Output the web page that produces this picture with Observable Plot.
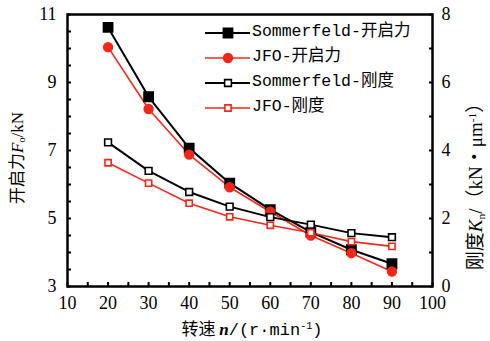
<!DOCTYPE html>
<html><head><meta charset="utf-8">
<script src="https://cdn.jsdelivr.net/npm/d3@7"></script>
<script src="https://cdn.jsdelivr.net/npm/@observablehq/plot@0.6"></script>
<style>
body{margin:0;background:#fff;}
#wrap{position:relative;width:490px;height:341px;overflow:hidden;background:#fff;}
#wrap svg{position:absolute;left:0;top:0;}
#wrap svg text{font-family:"Liberation Serif","Times New Roman",serif !important;}
.t{position:absolute;white-space:nowrap;color:#000;line-height:1;}
.serif{font-family:"Liberation Serif","Times New Roman","Noto Sans CJK SC",serif;}
.mono{font-family:"Liberation Mono","Courier New","Noto Sans CJK SC",monospace;}
.cjk{font-family:"Noto Sans CJK SC","Noto Sans CJK JP",sans-serif;}
.sub{font-size:0.6em;vertical-align:-0.25em;}
.sup{font-size:0.6em;vertical-align:0.55em;}
.leg{position:absolute;left:0;top:0;}
</style></head><body><div id="wrap"></div>
<script>
// ---- data ----
const speed = [20, 30, 40, 50, 60, 70, 80, 90];
const sommerfeldForce = [10.62, 8.58, 7.07, 6.04, 5.26, 4.60, 4.08, 3.67];
const jfoForce        = [10.04, 8.22, 6.88, 5.92, 5.20, 4.50, 3.98, 3.44];
const sommerfeldStiff = [4.24, 3.40, 2.78, 2.35, 2.04, 1.82, 1.57, 1.45];
const jfoStiff        = [3.64, 3.04, 2.45, 2.05, 1.80, 1.58, 1.32, 1.18];
const seriesNames = ["Sommerfeld-开启力", "JFO-开启力", "Sommerfeld-刚度", "JFO-刚度"];
const xTickLabels = [10, 20, 30, 40, 50, 60, 70, 80, 90, 100];
const xMinorTicks = d3.range(10, 100.1, 5);
const leftTickLabels = [3, 5, 7, 9, 11];
const leftMinorTicks = d3.range(3, 11.01, 0.5);
const rightTickLabels = [0, 2, 4, 6, 8];
const rightMinorTicks = [0, 1, 2, 3, 4, 5, 6, 7, 8];

// right axis (stiffness 0..8) shares the left scale (3..11)
const leftMin = 3, rightMin = 0;
const toLeft = v => v - rightMin + leftMin;

const RED = "#f0281a";
const styles = [
  {stroke: "#000", fill: "#000", symbol: "square", r: 5.2, sw: 2},
  {stroke: RED, fill: RED, symbol: "circle", r: 4.4, sw: 1.6},
  {stroke: "#000", fill: "#fff", symbol: "square", r: 3.8, sw: 2},
  {stroke: RED, fill: "#fff", symbol: "square", r: 3.5, sw: 1.6}
];

const rows = [];
speed.forEach((s, i) => {
  rows.push({series: seriesNames[0], x: s, y: sommerfeldForce[i]});
  rows.push({series: seriesNames[1], x: s, y: jfoForce[i]});
  rows.push({series: seriesNames[2], x: s, y: toLeft(sommerfeldStiff[i])});
  rows.push({series: seriesNames[3], x: s, y: toLeft(jfoStiff[i])});
});

const marks = [];
seriesNames.forEach((name, k) => {
  const st = styles[k];
  const d = rows.filter(r => r.series === name);
  marks.push(Plot.line(d, {x: "x", y: "y", stroke: st.stroke, strokeWidth: st.sw}));
});
seriesNames.forEach((name, k) => {
  const st = styles[k];
  const d = rows.filter(r => r.series === name);
  marks.push(Plot.dot(d, {x: "x", y: "y", symbol: st.symbol, r: st.r, fill: st.fill, stroke: st.stroke, strokeWidth: 1.6}));
});

const fontNum = '"Liberation Serif", "Times New Roman", serif';
const chart = Plot.plot({
  width: 490, height: 341,
  marginLeft: 67, marginRight: 58, marginTop: 14, marginBottom: 55,
  style: {background: "transparent", fontFamily: fontNum, color: "#000"},
  x: {domain: [10, 100]},
  y: {domain: [3, 11]},
  marks: [
    // inward minor ticks
    Plot.axisX(xMinorTicks, {tickSize: -4, tickFormat: () => "", label: null, strokeWidth: 2}),
    Plot.axisY(leftMinorTicks, {tickSize: -4, tickFormat: () => "", label: null, strokeWidth: 2}),
    Plot.axisY(rightMinorTicks.map(toLeft), {anchor: "right", tickSize: -4, tickFormat: () => "", label: null, strokeWidth: 2}),
    // labels
    Plot.axisX(xTickLabels, {tickSize: 0, tickPadding: 10, fontSize: 18, label: null}),
    Plot.axisY(leftTickLabels, {tickSize: 0, tickPadding: 11, fontSize: 18, label: null}),
    Plot.axisY(rightTickLabels.map(toLeft), {anchor: "right", tickSize: 0, tickPadding: 9, fontSize: 18, label: null, tickFormat: d => d - leftMin + rightMin}),
    ...marks,
    Plot.frame({stroke: "#000", strokeWidth: 2.5})
  ]
});
const wrap = document.getElementById("wrap");
wrap.appendChild(chart);

// axis titles
function addText(html, cls, css) {
  const el = document.createElement("div");
  el.className = "t " + cls;
  el.innerHTML = html;
  Object.assign(el.style, css);
  wrap.appendChild(el);
  return el;
}
addText('<span class="cjk">开启力</span><i>F</i><span class="sub">o</span>/kN', "serif",
  {left: "17px", top: "158px", fontSize: "17px", transform: "translate(-50%,-50%) rotate(-90deg)"});
addText('<span class="cjk">刚度</span><i>K</i><span class="sub">n</span>/<span class="cjk">（</span>kN<span class="cjk">·</span>μm<span class="sup">-1</span><span class="cjk">）</span>', "serif",
  {left: "476px", top: "182px", fontSize: "19px", transform: "translate(-50%,-50%) rotate(-90deg)"});
addText('<span class="cjk">转速 </span><b><i class="serif">n</i></b>/(r·min<span class="sup">-1</span>)', "mono",
  {left: "252px", top: "329px", fontSize: "17px", transform: "translate(-50%,-50%)"});

// legend
const legX = 205, legY0 = 33, legDy = 25;
const ns = "http://www.w3.org/2000/svg";
const lsvg = document.createElementNS(ns, "svg");
lsvg.setAttribute("width", 490); lsvg.setAttribute("height", 341);
lsvg.setAttribute("class", "leg");
wrap.appendChild(lsvg);
const symMap = {square: d3.symbolSquare, circle: d3.symbolCircle, diamond: d3.symbolDiamond};
seriesNames.forEach((name, k) => {
  const st = styles[k];
  const y = legY0 + k * legDy;
  const ln = document.createElementNS(ns, "line");
  ln.setAttribute("x1", legX); ln.setAttribute("x2", legX + 45);
  ln.setAttribute("y1", y); ln.setAttribute("y2", y);
  ln.setAttribute("stroke", st.stroke); ln.setAttribute("stroke-width", st.sw);
  lsvg.appendChild(ln);
  const p = document.createElementNS(ns, "path");
  p.setAttribute("d", d3.symbol(symMap[st.symbol], Math.PI * st.r * st.r)());
  p.setAttribute("transform", `translate(${legX + 23},${y})`);
  p.setAttribute("fill", st.fill); p.setAttribute("stroke", st.stroke); p.setAttribute("stroke-width", 1.6);
  lsvg.appendChild(p);
  addText(name, "mono", {left: (legX + 47) + "px", top: (y - 9) + "px", fontSize: "16.5px"});
});
</script>
</body></html>
